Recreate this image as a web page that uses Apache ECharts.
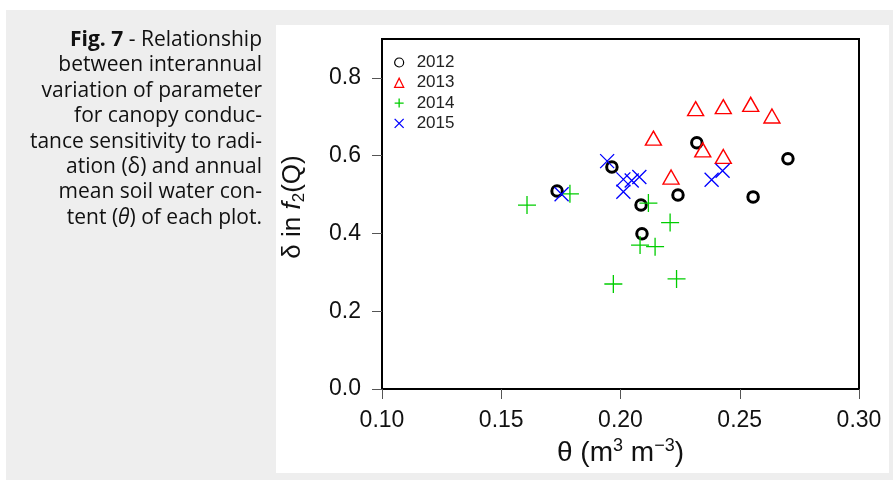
<!DOCTYPE html>
<html>
<head>
<meta charset="utf-8">
<script src="https://cdn.jsdelivr.net/npm/echarts@6/dist/echarts.min.js"></script>
<style>
html,body{margin:0;padding:0;background:#fff;}
#chart{width:893px;height:481px;}
</style>
</head>
<body>
<div id="chart"></div>
<script>
// ---- data (theta, delta) ----
const years = ['2012', '2013', '2014', '2015'];
const data2012 = [[0.1734,0.509],[0.1964,0.571],[0.2086,0.473],[0.2090,0.399],[0.2241,0.499],[0.2320,0.633],[0.2556,0.494],[0.2702,0.592]];
const data2013 = [[0.2315,0.721],[0.2431,0.726],[0.2546,0.732],[0.2635,0.702],[0.2138,0.645],[0.2345,0.615],[0.2431,0.598],[0.2212,0.545]];
const data2014 = [[0.1608,0.473],[0.1788,0.502],[0.2117,0.478],[0.2208,0.428],[0.2082,0.370],[0.2145,0.366],[0.1970,0.270],[0.2235,0.283]];
const data2015 = [[0.1944,0.586],[0.2012,0.539],[0.2047,0.536],[0.2079,0.545],[0.2012,0.507],[0.1753,0.501],[0.2382,0.538],[0.2428,0.561]];
const xTicks = [0.10, 0.15, 0.20, 0.25, 0.30];
const yTicks = [0.0, 0.2, 0.4, 0.6, 0.8];
const captionLines = [
  '{b|Fig. 7} - Relationship',
  'between interannual',
  'variation of parameter',
  'for canopy conduc-',
  'tance sensitivity to radi-',
  'ation (δ) and annual',
  'mean soil water con-',
  'tent ({i|θ}) of each plot.'
];

const PLUS = 'path://M0,5L10,5M5,0L5,10';
const CROSS = 'path://M0,0L10,10M10,0L0,10';

const chart = echarts.init(document.getElementById('chart'), null, {renderer: 'canvas'});

const capFont = '"Open Sans", "Noto Sans", sans-serif';
const capSize = 21;
const graphics = [
  {type:'rect', shape:{x:6, y:10, width:887, height:470}, style:{fill:'#eeeeee'}, z:-10, silent:true},
  {type:'rect', shape:{x:276, y:25, width:613, height:448}, style:{fill:'#ffffff'}, z:-9, silent:true}
];
captionLines.forEach((t, i) => {
  graphics.push({
    type:'text', x:262, y:40 + i*25.4, z:5, silent:true,
    style:{
      text:t, align:'right', verticalAlign:'middle',
      font: capSize + 'px ' + capFont, fill:'#111',
      rich:{
        b:{fontWeight:'bold', fontSize:capSize, fontFamily:capFont, fill:'#111'},
        i:{fontStyle:'italic', fontSize:capSize, fontFamily:capFont, fill:'#111'}
      }
    }
  });
});

const axisFont = '"Liberation Sans", Arial, Helvetica, sans-serif';

chart.setOption({
  animation:false,
  backgroundColor:'#ffffff',
  graphic: graphics,
  grid:{left:382, right:34, top:39, bottom:92, show:true, borderColor:'#000', borderWidth:2, backgroundColor:'#fff', containLabel:false},
  legend:{
    orient:'vertical', left:394, top:54, padding:0, itemWidth:9, itemHeight:9, itemGap:3.3,
    textStyle:{fontFamily:axisFont, fontSize:17, lineHeight:17, color:'#222', padding:[0,0,0,8]},
    data:[
      {name:'2012', icon:'circle', itemStyle:{color:'transparent', borderColor:'#000', borderWidth:1.2}},
      {name:'2013', icon:'triangle', itemStyle:{color:'transparent', borderColor:'#ff0000', borderWidth:1.3}},
      {name:'2014', icon:PLUS, itemStyle:{color:'transparent', borderColor:'#00cd00', borderWidth:1.3}},
      {name:'2015', icon:CROSS, itemStyle:{color:'transparent', borderColor:'#0000ff', borderWidth:1.3}}
    ]
  },
  xAxis:{
    type:'value', min:0.10, max:0.30, interval:0.05,
    name:'θ (m{sup|3} m{sup|−3})', nameLocation:'middle', nameGap:35,
    nameTextStyle:{fontFamily:axisFont, fontSize:28, lineHeight:32, color:'#111',
      rich:{sup:{fontFamily:axisFont, fontSize:18, lineHeight:32, verticalAlign:'top', color:'#111'}}},
    axisLine:{show:false}, splitLine:{show:false},
    axisTick:{show:true, length:10, lineStyle:{color:'#555', width:1}, customValues:xTicks},
    axisLabel:{margin:20, fontFamily:axisFont, fontSize:23, color:'#111', customValues:xTicks, formatter:v=>v.toFixed(2)}
  },
  yAxis:{
    type:'value', min:0, max:0.9, interval:0.2,
    name:'δ in {i|f}{sub|2}(Q)', nameLocation:'middle', nameGap:74,
    nameTextStyle:{fontFamily:axisFont, fontSize:26, lineHeight:30, color:'#111', padding:[0,0,0,14],
      rich:{
        i:{fontStyle:'italic', fontFamily:axisFont, fontSize:26, lineHeight:30, color:'#111'},
        sub:{fontFamily:axisFont, fontSize:17, lineHeight:30, verticalAlign:'bottom', color:'#111'}
      }},
    axisLine:{show:false}, splitLine:{show:false},
    axisTick:{show:true, length:10, lineStyle:{color:'#555', width:1}, customValues:yTicks},
    axisLabel:{margin:21, fontFamily:axisFont, fontSize:23, color:'#111', customValues:yTicks, formatter:v=>v.toFixed(1)}
  },
  series:[
    {name:'2012', type:'scatter', data:data2012, symbol:'circle', symbolSize:10.5,
      itemStyle:{color:'transparent', borderColor:'#000', borderWidth:3, opacity:1}},
    {name:'2013', type:'scatter', data:data2013, symbol:'triangle', symbolSize:[16,14],
      itemStyle:{color:'transparent', borderColor:'#ff0000', borderWidth:1.4, opacity:1}},
    {name:'2014', type:'scatter', data:data2014, symbol:PLUS, symbolSize:18,
      itemStyle:{color:'transparent', borderColor:'#00cd00', borderWidth:1.3, opacity:1}},
    {name:'2015', type:'scatter', data:data2015, symbol:CROSS, symbolSize:14,
      itemStyle:{color:'transparent', borderColor:'#0000ff', borderWidth:1.3, opacity:1}}
  ]
});
</script>
</body>
</html>
